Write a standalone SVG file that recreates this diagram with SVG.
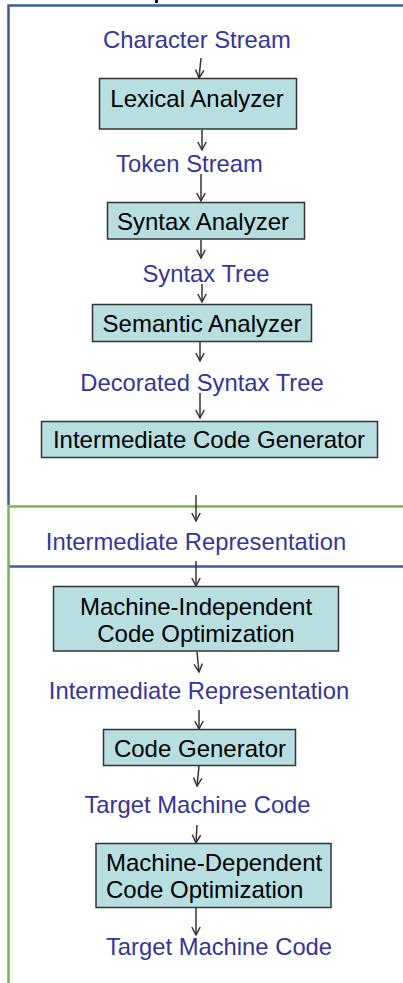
<svg xmlns="http://www.w3.org/2000/svg" width="403" height="983" viewBox="0 0 403 983">
  <style>
    .box { fill: #B7DFE1; stroke: #333333; stroke-width: 1.5; }
    .lbl { font-family: "Liberation Sans", Arial, sans-serif; font-size: 24px; fill: #000000; text-anchor: middle; }
    .lbl.left { text-anchor: start; }
    .data { font-family: "Liberation Sans", Arial, sans-serif; font-size: 23.8px; fill: #353599; text-anchor: middle; }
    .arrow { stroke: #333333; stroke-width: 1.5; fill: none; marker-end: url(#head); }
    .front { stroke: #3B5CA0; stroke-width: 2.5; fill: none; }
    .back { stroke: #76B54A; stroke-width: 2.5; fill: none; }
  </style>
  <defs>
    <marker id="head" viewBox="-10 -6 12 12" refX="0" refY="0" markerWidth="12" markerHeight="12" markerUnits="userSpaceOnUse" orient="auto">
      <path d="M-8,-4.2 L0,0 L-8,4.2" fill="none" stroke="#333333" stroke-width="1.5"/>
    </marker>
  </defs>

  <rect width="403" height="983" fill="#ffffff"/>

  <!-- clipped descender of a heading above the frame -->
  <rect x="155" y="0" width="3" height="3" fill="#111111"/>

  <!-- phase frames -->
  <g id="frames">
    <path class="front" d="M8.5,505 V5.5 H403"/>
    <path class="back" d="M8.5,983 V506.5 H403"/>
    <path class="front" d="M9.5,566.5 H403"/>
  </g>

  <!-- connectors -->
  <g id="connectors">
    <line class="arrow" x1="201" y1="58" x2="199" y2="78"/>
    <line class="arrow" x1="202" y1="130" x2="202" y2="150"/>
    <line class="arrow" x1="201" y1="174" x2="201" y2="201"/>
    <line class="arrow" x1="201" y1="240" x2="201" y2="258"/>
    <line class="arrow" x1="202" y1="284" x2="202" y2="302"/>
    <line class="arrow" x1="200" y1="342" x2="200" y2="361"/>
    <line class="arrow" x1="200" y1="393" x2="200" y2="418"/>
    <line class="arrow" x1="196" y1="495" x2="196" y2="521"/>
    <line class="arrow" x1="196" y1="561" x2="196" y2="586"/>
    <line class="arrow" x1="197" y1="652" x2="199" y2="672"/>
    <line class="arrow" x1="199" y1="710" x2="199" y2="729"/>
    <line class="arrow" x1="199" y1="766" x2="197" y2="786"/>
    <line class="arrow" x1="197" y1="825" x2="196" y2="843"/>
    <line class="arrow" x1="196" y1="908" x2="196" y2="935"/>
  </g>

  <!-- data between phases -->
  <g id="character-stream"><text class="data" x="197" y="48">Character Stream</text></g>
  <g id="token-stream"><text class="data" x="189.5" y="172">Token Stream</text></g>
  <g id="syntax-tree"><text class="data" x="206" y="282">Syntax Tree</text></g>
  <g id="decorated-syntax-tree"><text class="data" x="202" y="391">Decorated Syntax Tree</text></g>
  <g id="intermediate-representation-1"><text class="data" x="196" y="550">Intermediate Representation</text></g>
  <g id="intermediate-representation-2"><text class="data" x="199" y="699">Intermediate Representation</text></g>
  <g id="target-machine-code-1"><text class="data" x="197.5" y="813">Target Machine Code</text></g>
  <g id="target-machine-code-2"><text class="data" x="219" y="955">Target Machine Code</text></g>

  <!-- phases -->
  <g id="lexical-analyzer">
    <rect class="box" x="99.5" y="78.5" width="197" height="50.5"/>
    <text class="lbl" x="197" y="107">Lexical Analyzer</text>
  </g>
  <g id="syntax-analyzer">
    <rect class="box" x="107.5" y="202.5" width="197" height="36.5"/>
    <text class="lbl" x="203" y="230">Syntax Analyzer</text>
  </g>
  <g id="semantic-analyzer">
    <rect class="box" x="92.5" y="304.5" width="219" height="37"/>
    <text class="lbl" x="202" y="332">Semantic Analyzer</text>
  </g>
  <g id="intermediate-code-generator">
    <rect class="box" x="41.5" y="421.5" width="336" height="36"/>
    <text class="lbl" x="209" y="448">Intermediate Code Generator</text>
  </g>
  <g id="machine-independent-optimization">
    <rect class="box" x="53.5" y="586.5" width="285" height="64.5"/>
    <text class="lbl" x="196" y="615">Machine-Independent</text>
    <text class="lbl" x="196" y="642">Code Optimization</text>
  </g>
  <g id="code-generator">
    <rect class="box" x="103.5" y="729.5" width="192" height="36"/>
    <text class="lbl" x="200" y="757">Code Generator</text>
  </g>
  <g id="machine-dependent-optimization">
    <rect class="box" x="96" y="843.5" width="235" height="64"/>
    <text class="lbl left" x="106" y="871">Machine-Dependent</text>
    <text class="lbl left" x="106" y="898">Code Optimization</text>
  </g>
</svg>
